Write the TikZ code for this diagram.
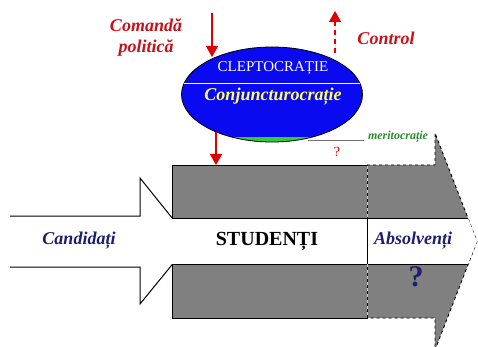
\documentclass[tikz,border=0pt]{standalone}
\usepackage{fontspec}
\setmainfont{Liberation Serif}
\usetikzlibrary{arrows.meta, shapes.geometric, positioning}

\definecolor{elblue}{HTML}{0A0AF0}
\definecolor{capgreen}{HTML}{33CC33}
\definecolor{arred}{HTML}{E00000}
\definecolor{lblred}{HTML}{C8101A}
\definecolor{navy}{HTML}{1E1E6E}
\definecolor{boxgrey}{HTML}{808080}
\definecolor{conjyel}{HTML}{FFFF66}
\definecolor{merigreen}{HTML}{2E8B2E}

\begin{document}
\begin{tikzpicture}[x=1pt,y=-1pt,
      >={Triangle[width=12pt,length=11pt]},
      redarr/.style={->,draw=arred,fill=arred,line width=1.4pt},
      lbl/.style={font=\fontsize{18}{21}\selectfont\bfseries\itshape},
      band/.style={draw=black,line width=1pt}
      ]
      \useasboundingbox (0,0) rectangle (478,347);
      \clip (0,0) rectangle (478,347);

      % input arrow (Candidati)
      \draw[line width=1pt,fill=white] (10,216) -- (140,216) -- (140,178) -- (191,241.5)
            -- (140,304) -- (140,267) -- (10,267);

      % output arrow (Absolventi)
      \draw[black,dashed,line width=0.9pt,fill=boxgrey] (367,165) -- (435,165) -- (435,133)
            -- (477,241.5) -- (435,350) -- (435,318) -- (367,318) -- cycle;
      \fill[white] (367,218) -- (468,218) -- (477,241.5) -- (468,264) -- (367,264) -- cycle;

      % students block
      \node[draw,line width=1.2pt,fill=boxgrey,minimum width=195,minimum height=153,
            anchor=north west,inner sep=0pt] (stud) at (172,165) {};
      \fill[white] (172,218) rectangle (367,264);
      \draw[band] (172,218) -- (468,218);
      \draw[band] (172,264) -- (468,264);
      \draw[band] (367,218) -- (367,264);
      \draw[white!80!black,dashed,line width=0.6pt] (367,166) -- (367,218);
      \draw[white!80!black,dashed,line width=0.6pt] (367,264) -- (367,317);

      % ellipse
      \node[ellipse,fill=elblue,minimum width=181,minimum height=95,inner sep=0pt] (elli) at (272,94.5) {};
      \begin{scope}
        \clip (0,137.5) rectangle (478,150);
        \fill[capgreen] (elli.center) ellipse (90.5pt and 47.5pt);
      \end{scope}
      \draw[line width=0.8pt] (elli.center) ellipse (90.5pt and 47.5pt);
      \draw[white,line width=1pt] (184,84) -- (360,84);

      \node[text=white,font=\fontsize{15}{17}\selectfont] (clepto) at (273,68) {CLEPTOCRAȚIE};
      \node[lbl,text=conjyel] (conj) at (273,97) {Conjuncturocrație};

      % meritocratie
      \node[font=\fontsize{12}{14}\selectfont\bfseries\itshape,text=merigreen] (meri) at (398,137) {meritocrație};
      \draw[black!55,line width=0.6pt] (308,140) -- (meri.west |- 0,140);
      \node[text=arred,font=\fontsize{14}{16}\selectfont] (qtop) at (337,152) {?};

      % labels
      \node[lbl,text=lblred,align=center] (cmd) at (146,38) {Comandă\\politică};
      \node[lbl,text=lblred] (ctrl) at (386,38) {Control};
      \node[lbl,text=navy] (cand) at (79,241) {Candidați};
      \node[font=\fontsize{20}{22}\selectfont\bfseries] (studtxt) at (267,241) {STUDENȚI};
      \node[lbl,text=navy] (absol) at (413,241) {Absolvenți};
      \node[font=\fontsize{30}{32}\selectfont\bfseries,text=navy] (qbot) at (416,277) {?};

      % red arrows
      \coordinate (cmdtop) at (212,13);
      \coordinate (cmdtip) at (212,57);
      \coordinate (downtop) at (216,132);
      \coordinate (downtip) at (216,165);
      \coordinate (ctrlfoot) at (335,53);
      \coordinate (ctrltip) at (335,11);
      \draw[redarr] (cmdtop) -- (cmdtip);
      \draw[redarr] (downtop) -- (downtip);
      \draw[redarr,dashed,dash pattern=on 5pt off 4pt] (ctrlfoot) -- (ctrltip);
\end{tikzpicture}
\end{document}
